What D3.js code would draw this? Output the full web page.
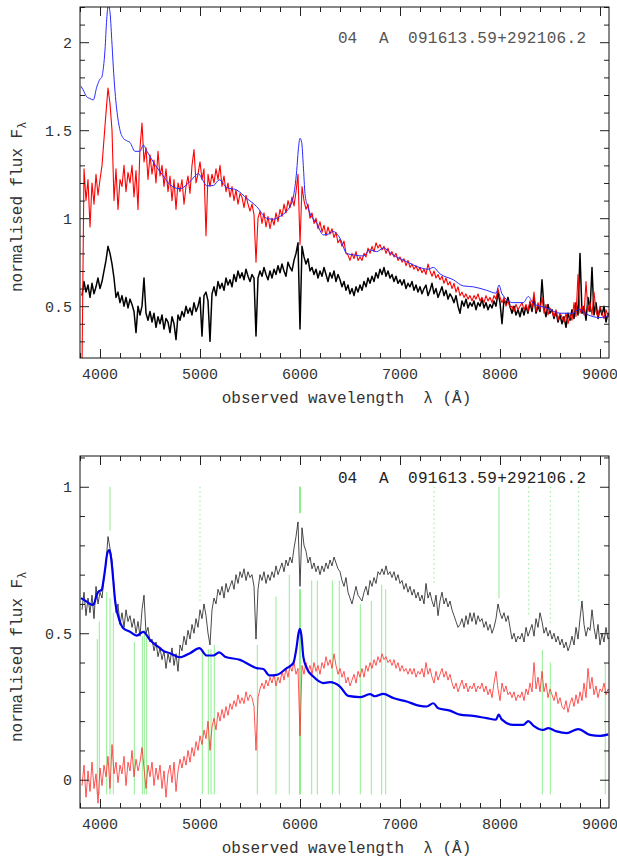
<!DOCTYPE html>
<html>
<head>
<meta charset="utf-8">
<script src="https://cdn.jsdelivr.net/npm/d3@7"></script>
<style>
  body { margin: 0; background: #fff; }
  text { font-family: "Liberation Mono", "DejaVu Sans Mono", monospace; }
</style>
</head>
<body>
<svg id="chart" width="617" height="861"></svg>
<script>
// ---- spectra on a regular wavelength grid (Å) ----
const gridStart = 3820, gridStep = 20;

// observed spectrum (upper panel)
const fluxObserved = [
  0.56, 0.64, 0.58, 0.62, 0.55,
  0.63, 0.57, 0.61, 0.66, 0.60,
  0.64, 0.70, 0.76, 0.84, 0.80,
  0.74, 0.66, 0.55, 0.58, 0.52,
  0.56, 0.50, 0.55, 0.49, 0.54,
  0.51, 0.47, 0.35, 0.50, 0.45,
  0.50, 0.66, 0.46, 0.42, 0.47,
  0.41, 0.46, 0.38, 0.44, 0.40,
  0.45, 0.37, 0.43, 0.41, 0.35,
  0.44, 0.40, 0.31, 0.45, 0.42,
  0.47, 0.44, 0.50, 0.46, 0.49,
  0.45, 0.52, 0.47, 0.50, 0.55,
  0.33, 0.56, 0.58, 0.53, 0.30,
  0.57, 0.61, 0.56, 0.64, 0.60,
  0.63, 0.59, 0.66, 0.62, 0.65,
  0.61, 0.68, 0.64, 0.70, 0.66,
  0.69, 0.65, 0.71, 0.67, 0.64,
  0.68, 0.66, 0.33, 0.66, 0.70,
  0.67, 0.72, 0.68, 0.65, 0.70,
  0.66, 0.71, 0.68, 0.73, 0.69,
  0.74, 0.70, 0.67, 0.75, 0.72,
  0.70, 0.76, 0.80, 0.86, 0.37,
  0.84, 0.78, 0.74, 0.77, 0.70,
  0.72, 0.68, 0.71, 0.66, 0.70,
  0.67, 0.72, 0.68, 0.64, 0.69,
  0.66, 0.70, 0.64, 0.68, 0.65,
  0.61, 0.64, 0.59, 0.62, 0.57,
  0.60, 0.56, 0.61, 0.58, 0.62,
  0.59, 0.64, 0.61, 0.66, 0.63,
  0.67, 0.64, 0.69, 0.66, 0.71,
  0.68, 0.72, 0.67, 0.70, 0.66,
  0.68, 0.64, 0.67, 0.63, 0.65,
  0.62, 0.65, 0.60, 0.63, 0.61,
  0.64, 0.59, 0.62, 0.58, 0.61,
  0.57, 0.60, 0.62, 0.56, 0.59,
  0.63, 0.57, 0.60, 0.55, 0.58,
  0.61, 0.56, 0.59, 0.54, 0.57,
  0.55, 0.52, 0.56, 0.50, 0.46,
  0.53, 0.50, 0.54, 0.49, 0.52,
  0.50, 0.53, 0.48, 0.52, 0.50,
  0.54, 0.49, 0.52, 0.48, 0.51,
  0.49, 0.53, 0.50, 0.58, 0.52,
  0.40, 0.54, 0.51, 0.55, 0.50,
  0.46, 0.50, 0.45, 0.48, 0.44,
  0.49, 0.45, 0.50, 0.46, 0.52,
  0.47, 0.55, 0.46, 0.50, 0.47,
  0.65, 0.49, 0.44, 0.51, 0.46,
  0.48, 0.43, 0.47, 0.41, 0.45,
  0.40, 0.44, 0.38, 0.46, 0.42,
  0.48, 0.43, 0.52, 0.45, 0.80,
  0.46, 0.50, 0.42, 0.55, 0.47,
  0.72, 0.45, 0.52, 0.43, 0.49,
  0.45, 0.50, 0.41, 0.46, 0.44
];

// corrected spectrum (upper panel, red)
const fluxCorrected = [
  0.15, 1.28, 1.10, 1.22, 0.95,
  1.20, 1.08, 1.25, 1.13, 1.22,
  1.30, 1.45, 1.60, 1.74, 1.65,
  1.50, 1.10, 1.28, 1.05, 1.22,
  1.18, 1.30, 1.15, 1.26, 1.20,
  1.30, 1.12, 1.27, 1.05, 1.40,
  1.54, 1.32, 1.40, 1.22, 1.36,
  1.25, 1.33, 1.20, 1.38, 1.24,
  1.30, 1.18, 1.28, 1.15, 1.24,
  1.10, 1.22, 1.05, 1.20, 1.15,
  1.22, 1.08, 1.18, 1.24, 1.14,
  1.30, 1.39, 1.20, 1.25, 1.32,
  1.22, 1.28, 0.90, 1.25, 1.18,
  1.25, 1.20, 1.28, 1.22, 1.30,
  1.18, 1.24, 1.15, 1.20, 1.12,
  1.18, 1.10, 1.16, 1.08, 1.14,
  1.12, 1.06, 1.13, 1.08, 1.04,
  1.08, 1.02, 0.75, 1.00, 1.04,
  0.97, 1.03, 0.95, 1.01, 0.94,
  1.00, 0.96, 1.03, 0.98, 1.05,
  1.01, 1.08, 1.03, 1.10, 1.06,
  1.12, 1.07, 1.15, 1.25, 0.85,
  1.18, 1.10, 1.05, 1.08, 1.00,
  1.03, 0.97, 1.00, 0.94, 0.98,
  0.92, 0.96, 0.90, 0.95, 0.91,
  0.94, 0.89, 0.92, 0.86, 0.88,
  0.84, 0.87, 0.80, 0.79, 0.76,
  0.80, 0.77, 0.81, 0.76, 0.78,
  0.76, 0.80, 0.78, 0.83, 0.80,
  0.84, 0.81, 0.86, 0.83, 0.85,
  0.82, 0.84, 0.80, 0.83, 0.79,
  0.81, 0.78, 0.80, 0.76, 0.78,
  0.75, 0.77, 0.73, 0.76, 0.72,
  0.74, 0.71, 0.73, 0.70, 0.72,
  0.69, 0.71, 0.68, 0.74, 0.70,
  0.67, 0.70, 0.66, 0.68, 0.65,
  0.67, 0.63, 0.66, 0.62, 0.64,
  0.60, 0.63, 0.58, 0.61, 0.56,
  0.58, 0.55, 0.57, 0.54, 0.56,
  0.53, 0.56, 0.54, 0.57, 0.53,
  0.55, 0.52, 0.56, 0.53, 0.55,
  0.52, 0.56, 0.54, 0.60, 0.55,
  0.52, 0.55, 0.50, 0.53, 0.49,
  0.50, 0.47, 0.51, 0.48, 0.50,
  0.52, 0.48, 0.51, 0.47, 0.53,
  0.49, 0.58, 0.47, 0.52, 0.48,
  0.55, 0.46, 0.51, 0.45, 0.49,
  0.47, 0.44, 0.48, 0.42, 0.46,
  0.44, 0.41, 0.46, 0.40, 0.45,
  0.42, 0.52, 0.44, 0.68, 0.46,
  0.50, 0.45, 0.64, 0.47, 0.52,
  0.45, 0.58, 0.47, 0.44, 0.50,
  0.46, 0.43, 0.48, 0.44, 0.46
];

// smoothed observed spectrum (lower panel, black)
const fluxSmoothed = [
  0.58, 0.64, 0.56, 0.62, 0.57,
  0.63, 0.55, 0.66, 0.60, 0.64,
  0.62, 0.69, 0.74, 0.83, 0.79,
  0.75, 0.66, 0.57, 0.60, 0.53,
  0.57, 0.52, 0.58, 0.54, 0.56,
  0.52, 0.55, 0.50, 0.54, 0.49,
  0.58, 0.63, 0.50, 0.52, 0.47,
  0.48, 0.44, 0.47, 0.42, 0.45,
  0.41, 0.44, 0.38, 0.43, 0.40,
  0.45, 0.39, 0.43, 0.37, 0.46,
  0.44, 0.49, 0.46, 0.51, 0.48,
  0.53, 0.50, 0.55, 0.52, 0.58,
  0.55, 0.60, 0.56, 0.50, 0.46,
  0.58, 0.62, 0.60, 0.65, 0.63,
  0.66, 0.62, 0.67, 0.64, 0.66,
  0.68, 0.65, 0.70, 0.67, 0.71,
  0.69, 0.72, 0.68, 0.71, 0.69,
  0.70, 0.66, 0.48, 0.65, 0.70,
  0.68, 0.71, 0.67, 0.70, 0.68,
  0.71, 0.69, 0.73, 0.70, 0.72,
  0.74, 0.71, 0.75, 0.73, 0.76,
  0.74, 0.79, 0.83, 0.88, 0.66,
  0.86, 0.80, 0.78, 0.74, 0.76,
  0.72, 0.74, 0.71, 0.73, 0.70,
  0.73, 0.71, 0.74, 0.72, 0.75,
  0.73, 0.76, 0.74, 0.72, 0.71,
  0.68, 0.66, 0.69, 0.64, 0.62,
  0.60, 0.63, 0.66, 0.63, 0.62,
  0.61, 0.64, 0.66, 0.63, 0.68,
  0.66, 0.69, 0.67, 0.71, 0.70,
  0.72, 0.70, 0.73, 0.70, 0.71,
  0.69, 0.71, 0.68, 0.70, 0.67,
  0.68, 0.65, 0.67, 0.64, 0.66,
  0.63, 0.65, 0.62, 0.64, 0.61,
  0.63, 0.60, 0.67, 0.62, 0.64,
  0.61, 0.59, 0.63, 0.56, 0.61,
  0.64, 0.60, 0.62, 0.59, 0.61,
  0.58, 0.56, 0.54, 0.52, 0.53,
  0.55, 0.52, 0.56, 0.53, 0.57,
  0.54, 0.57, 0.53, 0.56, 0.54,
  0.55, 0.52, 0.54, 0.51, 0.53,
  0.50, 0.52, 0.55, 0.60, 0.57,
  0.55, 0.57, 0.54, 0.56, 0.52,
  0.48, 0.50, 0.47, 0.49, 0.48,
  0.50, 0.47, 0.52, 0.49, 0.51,
  0.53, 0.49, 0.55, 0.52, 0.57,
  0.54, 0.50, 0.52, 0.49, 0.51,
  0.48, 0.50, 0.47, 0.49, 0.46,
  0.48, 0.45, 0.47, 0.44, 0.46,
  0.49, 0.46, 0.52, 0.48, 0.55,
  0.61, 0.53, 0.49, 0.52, 0.51,
  0.58, 0.52, 0.48, 0.53, 0.46,
  0.50, 0.47, 0.52, 0.48, 0.49
];

// residual (host) spectrum (lower panel, red)
const fluxResidual = [
  -0.02, 0.05, -0.06, 0.03, -0.04,
  0.06, -0.03, 0.02, -0.08, 0.04,
  -0.02, 0.05, 0.01, 0.08, -0.03,
  0.12, 0.02, 0.06, -0.01, 0.05,
  0.02, 0.08, -0.02, 0.06, 0.03,
  0.10, 0.01, 0.07, 0.03, 0.06,
  0.11, 0.04, -0.03, 0.05, 0.01,
  0.06, -0.02, 0.04, 0.00, 0.05,
  -0.03, 0.03, -0.06, 0.02, 0.05,
  -0.01, 0.06, -0.04, 0.03, 0.07,
  0.04, 0.08, 0.05, 0.10, 0.06,
  0.11, 0.08, 0.13, 0.10, 0.15,
  0.12, 0.17, 0.14, 0.20, 0.10,
  0.18, 0.21, 0.17, 0.23, 0.20,
  0.24, 0.21, 0.25, 0.22, 0.26,
  0.24, 0.27, 0.25, 0.29, 0.26,
  0.28, 0.26, 0.30, 0.27, 0.29,
  0.28, 0.25, 0.10, 0.28, 0.31,
  0.33, 0.31, 0.34, 0.32, 0.35,
  0.33, 0.36, 0.32, 0.35, 0.33,
  0.37, 0.34, 0.38, 0.35, 0.39,
  0.37, 0.40, 0.36, 0.38, 0.15,
  0.39, 0.36, 0.40, 0.37, 0.39,
  0.36, 0.40, 0.37, 0.39, 0.36,
  0.40, 0.38, 0.42, 0.39, 0.41,
  0.38, 0.43, 0.39, 0.36, 0.38,
  0.35, 0.37, 0.33, 0.35, 0.32,
  0.34, 0.36, 0.33, 0.37, 0.35,
  0.38, 0.35, 0.39, 0.37, 0.40,
  0.38, 0.41, 0.39, 0.42, 0.40,
  0.43, 0.41, 0.42, 0.40, 0.41,
  0.39, 0.41, 0.38, 0.40, 0.37,
  0.39, 0.37, 0.38, 0.36, 0.38,
  0.36, 0.38, 0.35, 0.37, 0.36,
  0.38, 0.35, 0.40, 0.36, 0.38,
  0.35, 0.33, 0.37, 0.34, 0.36,
  0.38, 0.35, 0.37, 0.34, 0.36,
  0.33, 0.31, 0.33, 0.30, 0.32,
  0.34, 0.31, 0.33, 0.30, 0.32,
  0.31, 0.33, 0.30, 0.32, 0.31,
  0.33, 0.30, 0.32, 0.29, 0.31,
  0.28, 0.33, 0.37, 0.31, 0.27,
  0.33, 0.30, 0.32, 0.29, 0.30,
  0.28, 0.30, 0.27, 0.29, 0.28,
  0.30, 0.27, 0.31, 0.29, 0.33,
  0.30, 0.40, 0.31, 0.35, 0.30,
  0.37, 0.30, 0.33, 0.28, 0.31,
  0.29, 0.27, 0.30, 0.26, 0.28,
  0.25, 0.24, 0.27, 0.23, 0.26,
  0.28, 0.25, 0.29, 0.26, 0.30,
  0.27, 0.33, 0.28, 0.38, 0.31,
  0.35, 0.29, 0.32, 0.28, 0.31,
  0.30, 0.33, 0.29, 0.31, 0.30
];

// quasar model, upper panel (blue)
const modelTopWave = [3810, 3830, 3867, 3900, 3933, 3967, 4000, 4017, 4035, 4050, 4067, 4083, 4100, 4117, 4133, 4150, 4167, 4200, 4233, 4267, 4300, 4350, 4400, 4433, 4470, 4500, 4567, 4633, 4700, 4800, 4900, 4983, 5033, 5067, 5133, 5193, 5267, 5367, 5467, 5567, 5667, 5733, 5800, 5867, 5900, 5933, 5950, 5967, 5983, 6000, 6017, 6033, 6050, 6075, 6100, 6167, 6233, 6283, 6333, 6400, 6467, 6550, 6633, 6700, 6767, 6833, 6933, 7067, 7200, 7280, 7333, 7400, 7533, 7633, 7733, 7867, 7960, 7990, 8020, 8133, 8233, 8283, 8333, 8467, 8600, 8733, 8783, 8867, 9000, 9100];
const modelTopFlux = [1.75, 1.73, 1.69, 1.68, 1.672, 1.744, 1.79, 1.80, 1.86, 1.956, 2.13, 2.21, 2.17, 2.02, 1.86, 1.72, 1.62, 1.50, 1.454, 1.44, 1.43, 1.38, 1.38, 1.415, 1.38, 1.35, 1.29, 1.24, 1.19, 1.167, 1.208, 1.252, 1.21, 1.184, 1.185, 1.218, 1.174, 1.16, 1.113, 1.066, 1.0, 0.994, 1.01, 1.04, 1.066, 1.12, 1.18, 1.27, 1.388, 1.454, 1.43, 1.30, 1.14, 1.07, 1.028, 0.971, 0.905, 0.91, 0.924, 0.886, 0.80, 0.79, 0.785, 0.82, 0.81, 0.83, 0.79, 0.753, 0.719, 0.71, 0.72, 0.684, 0.65, 0.615, 0.61, 0.59, 0.574, 0.62, 0.57, 0.52, 0.52, 0.555, 0.515, 0.49, 0.46, 0.46, 0.483, 0.454, 0.435, 0.445];

// quasar model, lower panel (blue)
const modelLowWave = [3810, 3833, 3867, 3900, 3933, 3967, 3983, 4017, 4035, 4050, 4073, 4093, 4105, 4117, 4133, 4150, 4183, 4233, 4300, 4367, 4433, 4500, 4600, 4633, 4700, 4800, 4900, 4993, 5067, 5133, 5193, 5250, 5400, 5567, 5633, 5693, 5767, 5867, 5933, 5967, 5985, 6000, 6015, 6033, 6067, 6133, 6233, 6300, 6400, 6483, 6600, 6700, 6750, 6833, 6933, 7067, 7200, 7267, 7333, 7383, 7500, 7600, 7733, 7867, 7960, 7987, 8017, 8133, 8233, 8283, 8333, 8433, 8483, 8567, 8667, 8783, 8900, 9000, 9083];
const modelLowFlux = [0.62, 0.615, 0.608, 0.60, 0.597, 0.63, 0.642, 0.648, 0.68, 0.716, 0.773, 0.784, 0.77, 0.739, 0.68, 0.614, 0.557, 0.517, 0.505, 0.492, 0.505, 0.477, 0.449, 0.44, 0.432, 0.418, 0.432, 0.449, 0.424, 0.424, 0.435, 0.42, 0.409, 0.381, 0.378, 0.356, 0.358, 0.381, 0.398, 0.455, 0.50, 0.515, 0.49, 0.42, 0.381, 0.352, 0.33, 0.333, 0.318, 0.286, 0.282, 0.292, 0.285, 0.293, 0.279, 0.267, 0.252, 0.25, 0.261, 0.244, 0.236, 0.222, 0.218, 0.21, 0.205, 0.222, 0.206, 0.187, 0.187, 0.2, 0.185, 0.17, 0.176, 0.165, 0.159, 0.173, 0.153, 0.15, 0.155];

// line identifications (lower panel): markers rising from the base
const lowerLineWave = [3973, 3993, 4067, 4100, 4133, 4343, 4423, 4443, 4467, 5023, 5083, 5110, 5143, 5573, 5760, 5893, 5995, 6000, 6005, 6117, 6173, 6323, 6393, 6603, 6713, 6817, 6857, 8423, 8503, 9053];
const lowerLineTop = [0.48, 0.54, 0.64, 0.62, 0.57, 0.47, 0.49, 0.51, 0.485, 0.44, 0.445, 0.445, 0.46, 0.46, 0.625, 0.70, 0.65, 0.65, 0.65, 0.68, 0.68, 0.68, 0.68, 0.60, 0.61, 0.665, 0.65, 0.443, 0.40, 0.40];
const lineBase = -0.05;
// markers hanging from flux 1 (solid: emission, dotted: absorption/sky)
const upperSolidWave = [4100, 5995, 6000, 6005, 7990];
const upperSolidEnd = [0.85, 0.91, 0.91, 0.91, 0.62];
const upperDottedWave = [5000, 7340, 8287, 8503, 8787];
const upperDottedEnd = [0.61, 0.67, 0.56, 0.53, 0.60];
const lineHang = 1.0;

// ---- axes ----
const waveDomain = [3800, 9090];
const xMajor = [4000, 5000, 6000, 7000, 8000, 9000];
const topYDomain = [0.2055, 2.2];
const topYLabels = [0.5, 1, 1.5, 2];
const lowYDomain = [-0.0965, 1.105];
const lowYLabels = [0, 0.5, 1];
const objectTag = ["04", "A", "091613.59+292106.2"];

const svg = d3.select("#chart");
const left = 80, right = 609;
const x = d3.scaleLinear().domain(waveDomain).range([left, right]);
const xMinor = d3.range(3800, 9091, 200).filter(v => v % 1000 !== 0);

const onGrid = arr => arr.map((v, i) => [gridStart + i * gridStep, v]);
const zipped = (w, f) => w.map((v, i) => [v, f[i]]);

function panel(id, top, bottom, yDomain, yLabels) {
  const y = d3.scaleLinear().domain(yDomain).range([bottom, top]);
  svg.append("clipPath").attr("id", id)
    .append("rect").attr("x", left).attr("y", top)
    .attr("width", right - left).attr("height", bottom - top);
  const plot = svg.append("g").attr("clip-path", `url(#${id})`);

  const yMinorVals = d3.range(Math.ceil(yDomain[0] * 10), Math.floor(yDomain[1] * 10) + 1)
    .map(k => k / 10).filter(v => Math.abs(v * 2 - Math.round(v * 2)) > 1e-6);

  const axes = svg.append("g").attr("class", "axes");
  const addAxis = (gen, tr) => {
    const g = axes.append("g").attr("transform", tr).call(gen);
    g.select(".domain").remove();
    g.selectAll("text").remove();
    g.selectAll("line").attr("stroke", "#222").attr("stroke-width", 1);
  };
  addAxis(d3.axisBottom(x).tickValues(xMajor).tickSize(-9), `translate(0,${bottom})`);
  addAxis(d3.axisBottom(x).tickValues(xMinor).tickSize(-5), `translate(0,${bottom})`);
  addAxis(d3.axisTop(x).tickValues(xMajor).tickSize(-9), `translate(0,${top})`);
  addAxis(d3.axisTop(x).tickValues(xMinor).tickSize(-5), `translate(0,${top})`);
  addAxis(d3.axisLeft(y).tickValues(yLabels).tickSize(-9), `translate(${left},0)`);
  addAxis(d3.axisLeft(y).tickValues(yMinorVals).tickSize(-5), `translate(${left},0)`);
  addAxis(d3.axisRight(y).tickValues(yLabels).tickSize(-9), `translate(${right},0)`);
  addAxis(d3.axisRight(y).tickValues(yMinorVals).tickSize(-5), `translate(${right},0)`);

  svg.append("rect").attr("x", left).attr("y", top)
    .attr("width", right - left).attr("height", bottom - top)
    .attr("fill", "none").attr("stroke", "#111").attr("stroke-width", 1);

  const lab = svg.append("g").attr("fill", "#333").attr("font-size", 15);
  lab.selectAll(".xl").data(xMajor).join("text")
    .attr("x", d => x(d)).attr("y", bottom + 21)
    .attr("text-anchor", "middle").text(d => d);
  lab.selectAll(".yl").data(yLabels).join("text")
    .attr("x", 72).attr("y", d => y(d)).attr("dy", "0.36em")
    .attr("text-anchor", "end").text(d => d3.format("")(d));

  svg.append("text").attr("x", (left + right) / 2 + 2).attr("y", bottom + 45)
    .attr("text-anchor", "middle").attr("font-size", 16).attr("fill", "#333")
    .attr("xml:space", "preserve")
    .text("observed wavelength  λ (Å)");

  const yt = svg.append("text")
    .attr("transform", `translate(22,${bottom - 66}) rotate(-90)`)
    .attr("font-size", 16).attr("fill", "#333");
  yt.append("tspan").text("normalised flux F");
  yt.append("tspan").attr("font-size", 12).attr("dy", 4).text("λ");

  return { y, plot };
}

function tag(baseline, colour) {
  const g = svg.append("g").attr("fill", colour).attr("font-size", 16);
  g.append("text").attr("x", 338).attr("y", baseline).text(objectTag[0]);
  g.append("text").attr("x", 379).attr("y", baseline).text(objectTag[1]);
  g.append("text").attr("x", 408).attr("y", baseline)
    .attr("textLength", 178).attr("lengthAdjust", "spacing").text(objectTag[2]);
}

// ---- upper panel ----
{
  const { y, plot } = panel("clipTop", 7, 358, topYDomain, topYLabels);
  const line = d3.line().x(d => x(d[0])).y(d => y(d[1]));
  plot.append("path").datum(onGrid(fluxObserved))
    .attr("d", line).attr("fill", "none").attr("stroke", "#000")
    .attr("stroke-width", 1.5).attr("stroke-linejoin", "round");
  plot.append("path").datum(onGrid(fluxCorrected))
    .attr("d", line).attr("fill", "none").attr("stroke", "#ff0000")
    .attr("stroke-width", 1.1).attr("stroke-linejoin", "round");
  plot.append("path").datum(zipped(modelTopWave, modelTopFlux))
    .attr("d", d3.line().curve(d3.curveMonotoneX).x(d => x(d[0])).y(d => y(d[1])))
    .attr("fill", "none").attr("stroke", "#2a2aff").attr("stroke-width", 1);
  tag(42.7, "#555");
}

// ---- lower panel ----
{
  const { y, plot } = panel("clipLow", 456, 808, lowYDomain, lowYLabels);
  const green = "#8fee8f";
  plot.append("g").selectAll("line").data(zipped(lowerLineWave, lowerLineTop)).join("line")
    .attr("x1", d => x(d[0])).attr("x2", d => x(d[0]))
    .attr("y1", y(lineBase)).attr("y2", d => y(d[1]))
    .attr("stroke", green).attr("stroke-width", 1);
  plot.append("g").selectAll("line").data(zipped(upperSolidWave, upperSolidEnd)).join("line")
    .attr("x1", d => x(d[0])).attr("x2", d => x(d[0]))
    .attr("y1", y(lineHang)).attr("y2", d => y(d[1]))
    .attr("stroke", green).attr("stroke-width", 1);
  plot.append("g").selectAll("line").data(zipped(upperDottedWave, upperDottedEnd)).join("line")
    .attr("x1", d => x(d[0])).attr("x2", d => x(d[0]))
    .attr("y1", y(lineHang)).attr("y2", d => y(d[1]))
    .attr("stroke", green).attr("stroke-width", 1).attr("stroke-dasharray", "1.5,3");

  const line = d3.line().x(d => x(d[0])).y(d => y(d[1]));
  plot.append("path").datum(onGrid(fluxSmoothed))
    .attr("d", line).attr("fill", "none").attr("stroke", "#1a1a1a")
    .attr("stroke-width", 0.8).attr("stroke-linejoin", "round");
  plot.append("path").datum(onGrid(fluxResidual))
    .attr("d", line).attr("fill", "none").attr("stroke", "#ff2a2a")
    .attr("stroke-width", 0.8).attr("stroke-linejoin", "round");
  plot.append("path").datum(zipped(modelLowWave, modelLowFlux))
    .attr("d", d3.line().curve(d3.curveMonotoneX).x(d => x(d[0])).y(d => y(d[1])))
    .attr("fill", "none").attr("stroke", "#0000ee").attr("stroke-width", 2.2);
  tag(482.7, "#222");
}
</script>
</body>
</html>
